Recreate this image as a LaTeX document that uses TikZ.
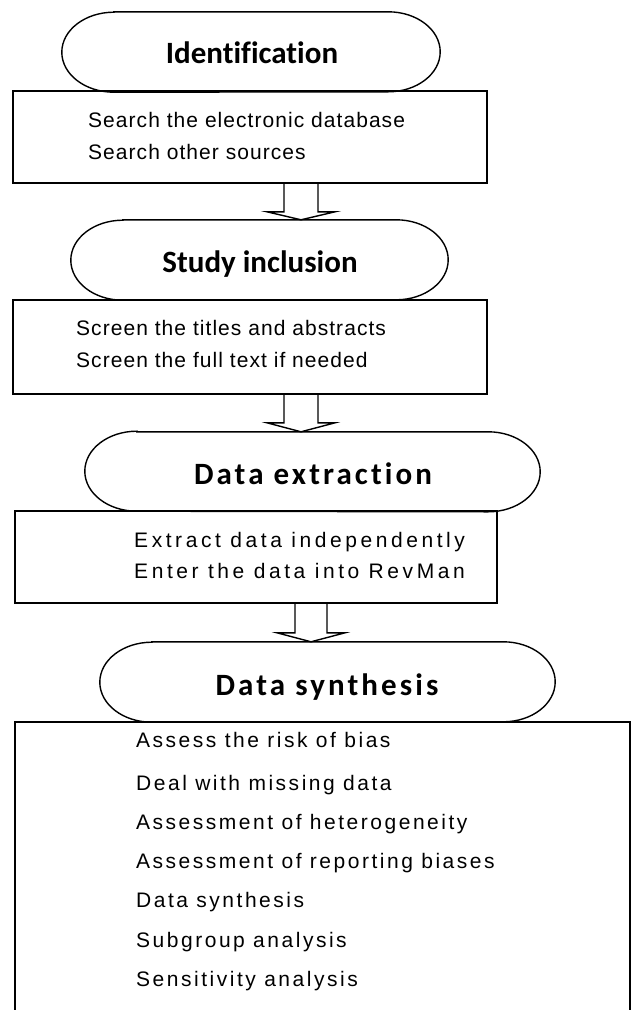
\documentclass[tikz,border=0pt]{standalone}
\usepackage{fontspec}
\setmainfont{Liberation Sans}
\newfontfamily\titlefont{Carlito}[Ligatures=NoCommon]
\usetikzlibrary{calc}
\newcommand\stadium[1]{\draw[line width=1.4pt] ([xshift=52pt]#1.north west) -- ([xshift=-52pt]#1.north east) arc[start angle=90,end angle=-90,x radius=52pt,y radius=40pt] -- ([xshift=52pt]#1.south west) arc[start angle=270,end angle=90,x radius=52pt,y radius=40pt] -- cycle;}
\newcommand\blockarrow[6]{% coord, from, to, shaft half, head half, head depth
\draw[arr] ($(#1 |- #2.south)+(-#4,0)$) -- ($(#1 |- #3.north)+(-#4,-#6)$) -- ($(#1 |- #3.north)+(-#5,-#6)$) -- (#1 |- #3.north) -- ($(#1 |- #3.north)+(#5,-#6)$) -- ($(#1 |- #3.north)+(#4,-#6)$) -- ($(#1 |- #2.south)+(#4,0)$);}
\begin{document}
\begin{tikzpicture}[x=1pt,y=-1pt,
 boxnode/.style={draw, line width=1.4pt, rectangle, inner sep=0pt},
 ovalnode/.style={rectangle, inner sep=0pt, draw=none},
 ttlA/.style={font=\titlefont\bfseries\fontsize{31}{36}\selectfont, inner sep=0pt, anchor=base},
 ttlB/.style={font=\titlefont\bfseries\fontsize{31}{36}\selectfont\addfontfeatures{LetterSpace=10}, inner sep=0pt, anchor=base},
 txtA/.style={font=\fontsize{21}{25}\selectfont\addfontfeatures{LetterSpace=5}, inner sep=0pt, anchor=base west},
 txtB/.style={font=\fontsize{21}{25}\selectfont\addfontfeatures{LetterSpace=17}, inner sep=0pt, anchor=base west},
 txtC/.style={font=\fontsize{21}{25}\selectfont\addfontfeatures{LetterSpace=12}, inner sep=0pt, anchor=base west},
 arr/.style={line width=1.4pt, line join=miter}]
\useasboundingbox (0,0) rectangle (631,1010);
\fill[white] (0,0) rectangle (631,1010);

% ovals
\node[ovalnode, minimum width=378pt, minimum height=80pt] (e1) at (251,52) {};
\node[ovalnode, minimum width=377pt, minimum height=80pt] (e2) at (259.5,260) {};
\node[ovalnode, minimum width=455pt, minimum height=79pt] (e3) at (312.5,471.5) {};
\node[ovalnode, minimum width=455pt, minimum height=80pt] (e4) at (327.5,682) {};
\stadium{e1}
\stadium{e2}
\stadium{e3}
\stadium{e4}

% boxes
\node[boxnode, minimum width=474pt, minimum height=92pt] (b1) at (250,137) {};
\node[boxnode, minimum width=474pt, minimum height=94pt] (b2) at (250,347) {};
\node[boxnode, minimum width=482pt, minimum height=92pt] (b3) at (256,557) {};
\node[boxnode, minimum width=615pt, minimum height=308pt] (b4) at (322.5,876) {};

% titles
\node[ttlA] (h1) at (252,63) {Identification};
\node[ttlA] (h2) at (260,272) {Study inclusion};
\node[ttlB] (h3) at (313,484) {Data extraction};
\node[ttlB] (h4) at (327,695) {Data synthesis};

% box texts
\node[txtA] (t1a) at (88,127) {Search the electronic database};
\node[txtA] (t1b) at (88,159) {Search other sources};
\node[txtA] (t2a) at (76,335) {Screen the titles and abstracts};
\node[txtA] (t2b) at (76,367) {Screen the full text if needed};
\node[txtB] (t3a) at (134,547) {Extract data independently};
\node[txtB] (t3b) at (134,578) {Enter the data into RevMan};
\node[txtC] (t4a) at (136,747) {Assess the risk of bias};
\node[txtC] (t4b) at (136,790) {Deal with missing data};
\node[txtC] (t4c) at (136,829) {Assessment of heterogeneity};
\node[txtC] (t4d) at (136,868) {Assessment of reporting biases};
\node[txtC] (t4e) at (136,907) {Data synthesis};
\node[txtC] (t4f) at (136,947) {Subgroup analysis};
\node[txtC] (t4g) at (136,986) {Sensitivity analysis};

% arrows
\coordinate (a1) at (301,0);
\coordinate (a2) at (301,0);
\coordinate (a3) at (311,0);
\blockarrow{a1}{b1}{e2}{17}{34}{8}
\blockarrow{a2}{b2}{e3}{17}{34}{9}
\blockarrow{a3}{b3}{e4}{16}{34}{9}
\end{tikzpicture}
\end{document}
